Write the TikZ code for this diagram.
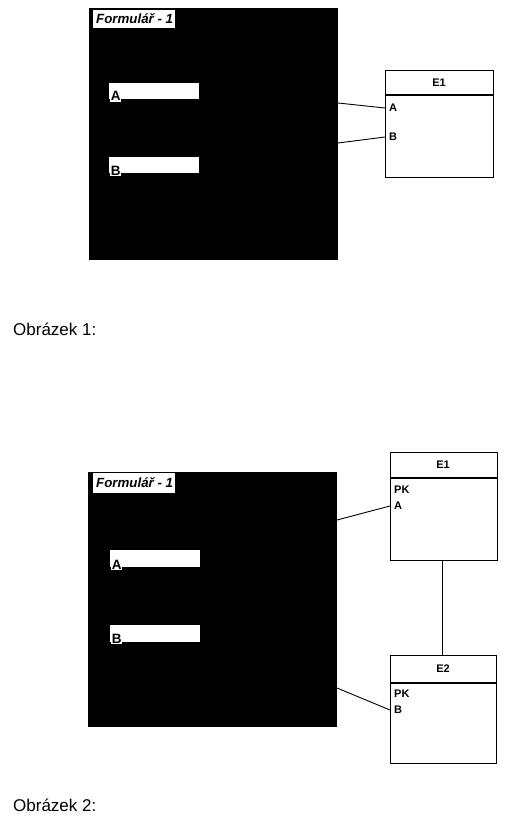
\documentclass[tikz,border=0pt]{standalone}
\usepackage{fontspec}
\setmainfont{Liberation Sans}
\begin{document}
\begin{tikzpicture}[x=1pt,y=-1pt,
  formbg/.style={fill=black,draw=none},
  whitebox/.style={fill=white,draw=none,inner sep=0pt,anchor=north west},
  formtitle/.style={font=\fontsize{13.3}{13.3}\selectfont\bfseries\itshape,inner sep=0pt,anchor=west},
  fieldlabel/.style={font=\fontsize{13.5}{13.5}\selectfont\bfseries,fill=white,inner sep=0.6pt,anchor=base west},
  entity/.style={draw=black,line width=1.2pt,fill=white,inner sep=0pt,anchor=north west},
  enttitle/.style={font=\fontsize{11}{11}\selectfont\bfseries,inner sep=0pt},
  attr/.style={font=\fontsize{11}{11}\selectfont\bfseries,inner xsep=4pt,inner ysep=0pt,anchor=west},
  conn/.style={line width=0.9pt},
  caption/.style={font=\fontsize{17}{17}\selectfont,inner sep=0pt,anchor=base west}]
\useasboundingbox[fill=white] (0,0) rectangle (513,824);

% ---------- Figure 1 ----------
\node[whitebox,formbg,minimum width=249pt,minimum height=252pt] (form1) at (89,8) {};
\node[whitebox,minimum width=82pt,minimum height=18pt] (t1) at (93,10) {};
\node[formtitle] (t1txt) at (96,19) {Formulář - 1};
\node[whitebox,minimum width=90pt,minimum height=16pt] (fa1) at (109,83) {};
\node[fieldlabel] (fa1l) at (110,101) {A};
\node[whitebox,minimum width=90pt,minimum height=16pt] (fb1) at (109,157) {};
\node[fieldlabel] (fb1l) at (110,175) {B};

\node[entity,minimum width=108pt,minimum height=107pt] (e1) at (385,70) {};
\draw[line width=1.2pt] (385,95) -- (493,95);
\node[enttitle] (e1t) at (439,83) {E1};
\node[attr] (e1a) at (385,108) {A};
\node[attr] (e1b) at (385,137) {B};
\coordinate (c1a) at (338,103);
\coordinate (c1b) at (338,143);
\draw[conn] (c1a) -- (e1a.west);
\draw[conn] (c1b) -- (e1b.west);

\node[caption] (cap1) at (13,335) {Obrázek 1:};

% ---------- Figure 2 ----------
\node[whitebox,formbg,minimum width=249pt,minimum height=255pt] (form2) at (88,472) {};
\node[whitebox,minimum width=82pt,minimum height=20pt] (t2) at (93,473) {};
\node[formtitle] (t2txt) at (96,483) {Formulář - 1};
\node[whitebox,minimum width=90pt,minimum height=17pt] (fa2) at (110,550) {};
\node[fieldlabel] (fa2l) at (111,569) {A};
\node[whitebox,minimum width=90pt,minimum height=17pt] (fb2) at (110,625) {};
\node[fieldlabel] (fb2l) at (111,643) {B};

\node[entity,minimum width=107pt,minimum height=108pt] (e2a) at (390,452) {};
\draw[line width=1.2pt] (390,478) -- (497,478);
\node[enttitle] (e2at) at (443,465) {E1};
\node[attr] (e2apk) at (390,490) {PK};
\node[attr] (e2aa) at (390,506) {A};

\node[entity,minimum width=106pt,minimum height=108pt] (e2b) at (390,655) {};
\draw[line width=1.2pt] (390,683) -- (496,683);
\node[enttitle] (e2bt) at (443,669) {E2};
\node[attr] (e2bpk) at (390,694) {PK};
\node[attr] (e2bb) at (390,710) {B};

\coordinate (c2a) at (337,520);
\coordinate (c2b) at (337,688);
\draw[conn] (c2a) -- (e2aa.west);
\draw[conn] (c2b) -- (e2bb.west);
\draw[conn] (e2a.south -| 442,0) -- (e2b.north -| 442,0);

\node[caption] (cap2) at (13,811) {Obrázek 2:};
\end{tikzpicture}
\end{document}
